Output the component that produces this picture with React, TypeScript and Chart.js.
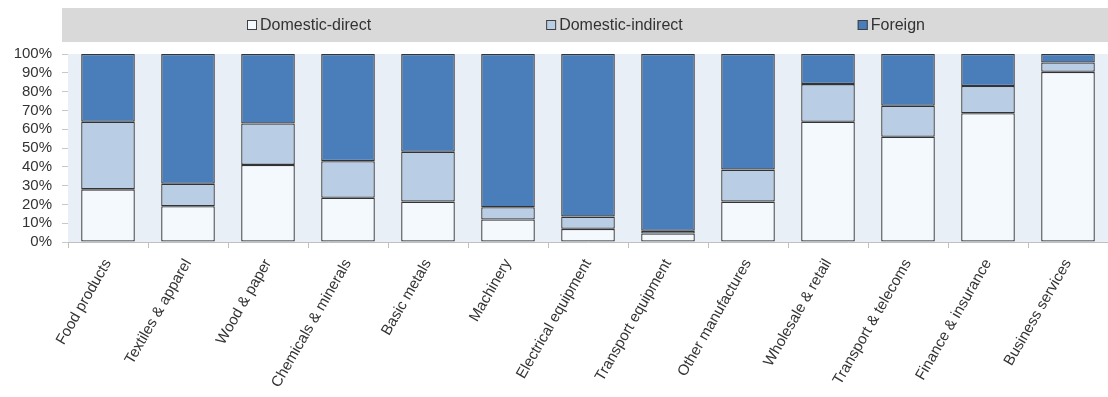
import React, { useEffect, useRef } from "react";
import { Chart, registerables } from "chart.js";

Chart.register(...registerables);

const categories = [
  "Food products",
  "Textiles & apparel",
  "Wood & paper",
  "Chemicals & minerals",
  "Basic metals",
  "Machinery",
  "Electrical equipment",
  "Transport equipment",
  "Other manufactures",
  "Wholesale & retail",
  "Transport & telecoms",
  "Finance & insurance",
  "Business services",
];

const domesticDirect = [28, 19, 41, 23.5, 21.5, 12, 7, 4.5, 21.5, 64, 56, 68.5, 90.5];
const domesticIndirect = [36, 12, 22, 19.5, 26.5, 6.5, 6.5, 1.5, 17, 20, 16.5, 14.5, 5];
const foreign = [36, 69, 37, 57, 52, 81.5, 86.5, 94, 61.5, 16, 27.5, 17, 4.5];

const seriesNames = ["Domestic-direct", "Domestic-indirect", "Foreign"];
const seriesColors = ["#f4f9fe", "#b9cde5", "#4a7ebb"];
const yTicks = [0, 10, 20, 30, 40, 50, 60, 70, 80, 90, 100];

const FONT = "'Liberation Sans', Arial, sans-serif";

const bgPlugin = {
  id: "plotBg",
  beforeDraw(chart: any) {
    const { ctx, chartArea } = chart;
    ctx.save();
    ctx.fillStyle = "#e9eff7";
    ctx.fillRect(chartArea.left, chartArea.top, chartArea.right - chartArea.left, chartArea.bottom - chartArea.top);
    ctx.restore();
  },
};

const legendPlugin = {
  id: "customLegend",
  afterDraw(chart: any) {
    const { ctx } = chart;
    ctx.save();
    ctx.fillStyle = "#d9d9d9";
    ctx.fillRect(62, 8, chart.width - 62, 34);
    ctx.font = `16px ${FONT}`;
    ctx.textBaseline = "middle";
    let x = 247;
    const cy = 25;
    seriesNames.forEach((name, i) => {
      ctx.fillStyle = seriesColors[i];
      ctx.fillRect(x, cy - 5, 10, 10);
      ctx.strokeStyle = "#404040";
      ctx.lineWidth = 1;
      ctx.strokeRect(x + 0.5, cy - 4.5, 9, 9);
      ctx.fillStyle = "#333333";
      ctx.fillText(name, x + 13, cy + 1);
      x += 13 + ctx.measureText(name).width + 175;
    });
    ctx.restore();
  },
};

export default function App() {
  const ref = useRef<HTMLCanvasElement | null>(null);

  useEffect(() => {
    document.body.style.margin = "0";
    if (!ref.current) return;
    const values = [domesticDirect, domesticIndirect, foreign];
    const chart = new Chart(ref.current, {
      type: "bar",
      data: {
        labels: categories,
        datasets: seriesNames.map((name, i) => ({
          label: name,
          data: values[i],
          backgroundColor: seriesColors[i],
          borderColor: "#333333",
          borderWidth: 1.3,
          borderSkipped: false,
          barPercentage: 0.67,
          categoryPercentage: 1,
        })),
      },
      options: {
        responsive: false,
        animation: false,
        layout: { padding: { top: 54, right: -4, left: 0, bottom: 0 } },
        plugins: {
          legend: { display: false },
          tooltip: { enabled: false },
        },
        scales: {
          x: {
            stacked: true,
            offset: true,
            grid: {
              display: true,
              offset: true,
              drawOnChartArea: false,
              drawTicks: true,
              tickLength: 6,
              color: "#bfbfbf",
            },
            border: { display: true, color: "#bfbfbf" },
            ticks: {
              autoSkip: false,
              maxRotation: 60,
              minRotation: 60,
              padding: 8,
              color: "#333333",
              font: { family: FONT, size: 15 },
            },
            afterFit: (scale: any) => {
              scale.height = 155;
            },
          },
          y: {
            stacked: true,
            min: 0,
            max: 100,
            afterBuildTicks: (scale: any) => {
              scale.ticks = yTicks.map((v) => ({ value: v }));
            },
            ticks: {
              autoSkip: false,
              callback: (v: any) => `${v}%`,
              padding: 10,
              color: "#333333",
              font: { family: FONT, size: 15 },
            },
            grid: {
              display: true,
              drawOnChartArea: false,
              drawTicks: true,
              tickLength: 6,
              color: "#c8c8c8",
            },
            border: { display: false },
            afterFit: (scale: any) => {
              scale.width = 68;
            },
          },
        },
      },
      plugins: [bgPlugin, legendPlugin],
    });
    return () => chart.destroy();
  }, []);

  return <canvas ref={ref} width={1108} height={397} style={{ display: "block" }} />;
}
